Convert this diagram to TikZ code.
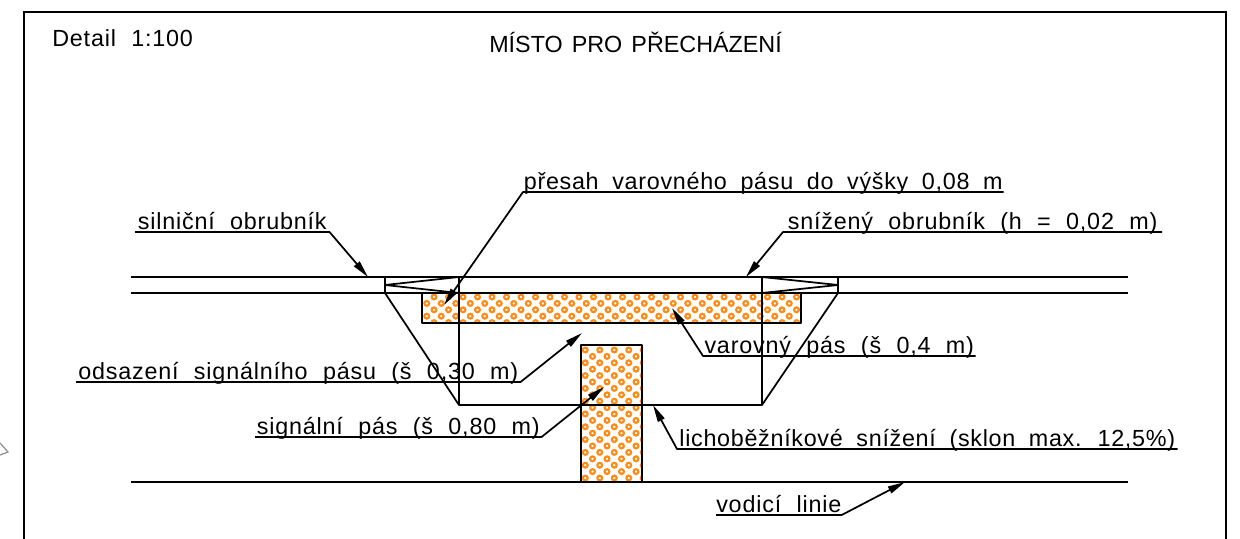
\documentclass[tikz,border=0pt]{standalone}
\usepackage{fontspec}
\setmainfont{Liberation Sans}[LetterSpace=3.5,WordSpace=2.1]
\newfontfamily\titlefont{Liberation Sans}[WordSpace=1.4]
\newfontfamily\tightfont{Liberation Sans}[LetterSpace=3,WordSpace=1.9]
\usetikzlibrary{arrows.meta}
\definecolor{hatchorange}{HTML}{FF8A14}
\tikzset{%
  outline/.style={%
    line width=1.3pt,
    draw=black,
    line join=bevel
  },
  leader/.style={%
    outline,
    -{Triangle[length=13pt,width=5.5pt]}
  },
  lbl/.style={%
    inner sep=0pt,
    text height=13pt,
    text depth=1.5pt,
    font=\fontsize{17.5pt}{20pt}\selectfont,
    anchor=south west
  },
  ring/.style={%
    draw=hatchorange,
    line width=1.6pt
  }
}

\begin{document}
\begin{tikzpicture}[x=0.75pt,y=-0.75pt]
      \useasboundingbox (0,0) rectangle (1240,539);

      % frame
      \draw[outline, line join=miter] (24,539) -- (24,12) -- (1226,12) -- (1226,539);
      \draw[line width=0.9pt, draw=black!45] (0,443) -- (8,452) -- (0,455);

      % hatched strips
      \begin{scope}
        \clip (422,293) rectangle (801,323);
        \foreach \r in {0,...,4}
          \foreach \c in {0,...,26}
            \draw[ring] ({419.5+14.5*\c+7.25*mod(\r,2)},{297+6.4*\r}) circle (2.4);
      \end{scope}
      \begin{scope}
        \clip (581,345) rectangle (642,482);
        \foreach \r in {0,...,21}
          \foreach \c in {0,...,4}
            \draw[ring] ({578+14.5*\c+7.25*mod(\r+1,2)},{350+6.4*\r}) circle (2.4);
      \end{scope}
      \draw[outline] (422,293) rectangle (801,323);
      \draw[outline] (581,345) rectangle (642,482);

      % road edge and lowering
      \draw[outline] (131,277) -- (1128,277);
      \draw[outline] (131,293) -- (1128,293);
      \draw[outline] (131,482) -- (1128,482);
      \draw[outline] (385,277) -- (385,293) -- (459,405) -- (762,405) -- (838,293) -- (838,277);
      \draw[outline] (459,277) -- (459,405);
      \draw[outline] (762,277) -- (762,405);
      \draw[outline] (459,277) -- (385,285) -- (459,293);
      \draw[outline] (762,277) -- (838,285) -- (762,293);

      % titles
      \node[lbl, anchor=base west] (detail) at (52,46) {Detail 1:100};
      \node[lbl, anchor=base west] (title) at (489,52) {\titlefont MÍSTO PRO PŘECHÁZENÍ};

      % labels
      \node[lbl, minimum width=145.5pt] (silnicni) at (135,232) {silniční obrubník};
      \node[lbl, minimum width=360pt]   (presah)   at (523,192) {\tightfont přesah varovného pásu do výšky 0,08 m};
      \node[lbl, minimum width=284pt]   (snizeny)  at (783,232) {snížený obrubník (h = 0,02 m)};
      \node[lbl, minimum width=204pt]   (varovny)  at (703,356) {varovný pás (š 0,4 m)};
      \node[lbl, minimum width=333pt]   (odsazeni) at (76,382)  {odsazení signálního pásu (š 0,30 m)};
      \node[lbl, minimum width=214.5pt] (signalni) at (255,437) {signální pás (š 0,80 m)};
      \node[lbl, minimum width=375pt]   (licho)    at (677,449) {\tightfont lichoběžníkové snížení (sklon max. 12,5\%)};
      \node[lbl, minimum width=93pt]    (vodici)   at (716,515) {vodicí linie};

      % arrow targets
      \coordinate (silnicni-t) at (368,277);
      \coordinate (presah-t)   at (444,305);
      \coordinate (snizeny-t)  at (746,277);
      \coordinate (varovny-t)  at (672,308);
      \coordinate (odsazeni-t) at (582,333);
      \coordinate (signalni-t) at (604,387);
      \coordinate (licho-t)    at (653,405);
      \coordinate (vodici-t)   at (905,482);

      \draw[leader] (silnicni.south west) -- (silnicni.south east) -- (silnicni-t);
      \draw[leader] (presah.south east) -- (presah.south west) -- (presah-t);
      \draw[leader] (snizeny.south east) -- (snizeny.south west) -- (snizeny-t);
      \draw[leader] (varovny.south east) -- (varovny.south west) -- (varovny-t);
      \draw[leader] (odsazeni.south west) -- (odsazeni.south east) -- (odsazeni-t);
      \draw[leader] (signalni.south west) -- (signalni.south east) -- (signalni-t);
      \draw[leader] (licho.south east) -- (licho.south west) -- (licho-t);
      \draw[leader] (vodici.south west) -- (vodici.south east) -- (vodici-t);
    \end{tikzpicture}
\end{document}
